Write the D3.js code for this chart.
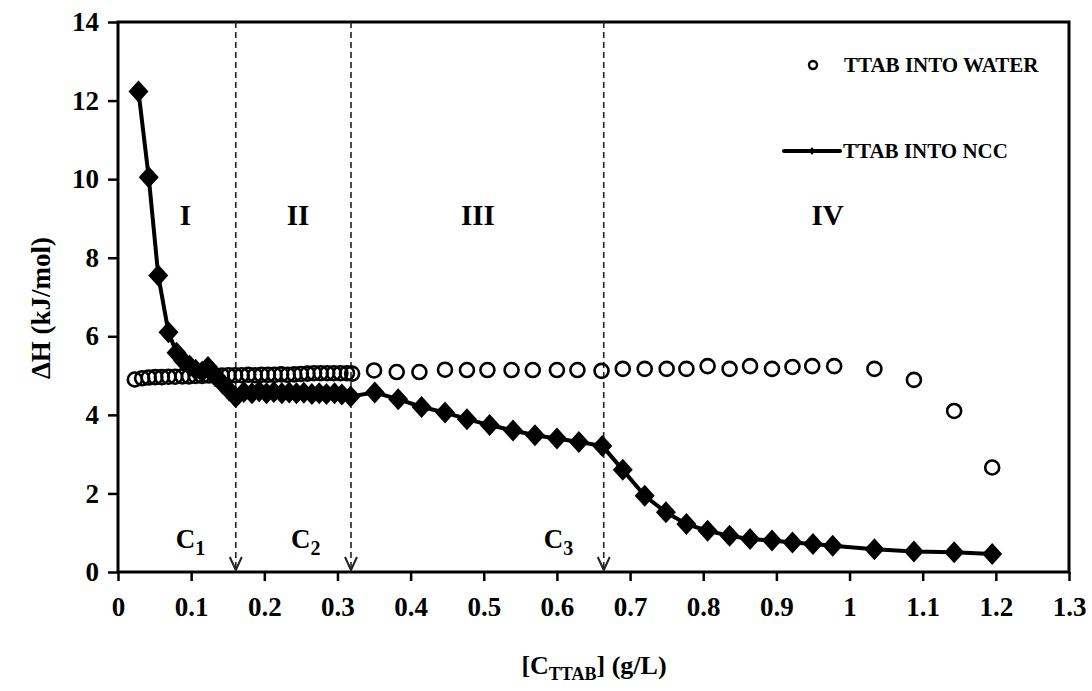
<!DOCTYPE html>
<html>
<head>
<meta charset="utf-8">
<script src="https://cdn.jsdelivr.net/npm/d3@7"></script>
<style>
  html, body { margin: 0; padding: 0; background: #fff; }
  svg { display: block; }
  text { font-family: "Liberation Serif", "Times New Roman", serif; font-weight: bold; fill: #000; }
</style>
</head>
<body>
<svg id="chart" width="1092" height="691"></svg>
<script>
// TTAB concentration (g/L) and enthalpy change (kJ/mol) for injection into water
const waterX = [0.023, 0.033, 0.042, 0.051, 0.060, 0.069, 0.078, 0.088, 0.097, 0.106,
  0.115, 0.124, 0.133, 0.142, 0.151, 0.160, 0.169, 0.178, 0.187, 0.196,
  0.205, 0.214, 0.223, 0.232, 0.241, 0.250, 0.259, 0.268, 0.277, 0.286,
  0.295, 0.304, 0.313, 0.320,
  0.350, 0.381, 0.412, 0.447, 0.477, 0.505, 0.538, 0.567, 0.600, 0.628,
  0.661, 0.690, 0.720, 0.750, 0.777, 0.806, 0.836, 0.864, 0.894, 0.922,
  0.949, 0.979, 1.034, 1.088, 1.143, 1.195];
const waterH = [4.90, 4.93, 4.95, 4.96, 4.96, 4.97, 4.97, 4.98, 4.98, 4.99,
  4.99, 5.00, 5.00, 5.00, 5.01, 5.01, 5.01, 5.02, 5.01, 5.02,
  5.02, 5.02, 5.03, 5.02, 5.03, 5.04, 5.05, 5.06, 5.06, 5.06,
  5.06, 5.06, 5.06, 5.05,
  5.13, 5.09, 5.09, 5.15, 5.14, 5.14, 5.14, 5.14, 5.14, 5.14,
  5.12, 5.17, 5.17, 5.17, 5.17, 5.24, 5.17, 5.24, 5.17, 5.22,
  5.24, 5.24, 5.17, 4.89, 4.10, 2.66];

// TTAB injected into the NCC suspension
const nccX = [0.028, 0.042, 0.055, 0.069, 0.080, 0.089, 0.098, 0.106, 0.115, 0.123,
  0.133, 0.143, 0.152, 0.161,
  0.172, 0.183, 0.193, 0.203, 0.213, 0.224, 0.234, 0.244, 0.254, 0.265,
  0.275, 0.285, 0.296, 0.306, 0.318,
  0.351, 0.383, 0.415, 0.447, 0.477, 0.508, 0.540, 0.570, 0.600, 0.630,
  0.662, 0.690, 0.720, 0.749, 0.777, 0.806, 0.836, 0.864, 0.894, 0.922,
  0.950, 0.977, 1.034, 1.088, 1.143, 1.195];
const nccH = [12.23, 10.05, 7.55, 6.10, 5.58, 5.38, 5.25, 5.15, 5.10, 5.22,
  4.98, 4.80, 4.62, 4.45,
  4.58, 4.55, 4.60, 4.55, 4.58, 4.55, 4.57, 4.55, 4.56, 4.53,
  4.55, 4.53, 4.55, 4.52, 4.47,
  4.57, 4.40, 4.20, 4.06, 3.89, 3.74, 3.60, 3.48, 3.40, 3.31,
  3.21, 2.60, 1.94, 1.52, 1.22, 1.05, 0.92, 0.84, 0.80, 0.75,
  0.71, 0.67, 0.58, 0.52, 0.50, 0.46];

// Transition concentrations and region names
const transitionX = [0.161, 0.3185, 0.664];
const transitionSub = ["1", "2", "3"];
const regionNames = ["I", "II", "III", "IV"];
const regionX = [0.092, 0.246, 0.492, 0.970];

const xTicks = [0, 0.1, 0.2, 0.3, 0.4, 0.5, 0.6, 0.7, 0.8, 0.9, 1, 1.1, 1.2, 1.3];
const yTicks = [0, 2, 4, 6, 8, 10, 12, 14];

const legendLabels = ["TTAB INTO WATER", "TTAB INTO NCC"];

const svg = d3.select("#chart");
const plotL = 118, plotR = 1069, plotT = 22, plotB = 572;

const x = d3.scaleLinear().domain([0, 1.3]).range([plotL, plotR]);
const y = d3.scaleLinear().domain([0, 14]).range([plotB, plotT]);

// Plot frame
svg.append("rect")
  .attr("x", plotL).attr("y", plotT)
  .attr("width", plotR - plotL).attr("height", plotB - plotT)
  .attr("fill", "none").attr("stroke", "#000").attr("stroke-width", 3);

// Axes
const xAxis = svg.append("g")
  .attr("transform", `translate(0,${plotB})`)
  .call(d3.axisBottom(x).tickValues(xTicks).tickSize(9).tickPadding(16)
    .tickFormat(d => d3.format("~g")(d)));
const yAxis = svg.append("g")
  .attr("transform", `translate(${plotL},0)`)
  .call(d3.axisLeft(y).tickValues(yTicks).tickSize(10).tickPadding(9));
[xAxis, yAxis].forEach(g => {
  g.select(".domain").remove();
  g.selectAll(".tick line").attr("stroke", "#000").attr("stroke-width", 2.5);
  g.selectAll(".tick text").style("font-size", "27px")
    .style("font-family", "'Liberation Serif', serif").style("font-weight", "bold");
});

// Axis titles
svg.append("text")
  .attr("transform", `translate(50,${(plotT + plotB) / 2 + 11}) rotate(-90)`)
  .attr("text-anchor", "middle").style("font-size", "27px")
  .text("ΔH (kJ/mol)");

const xTitle = svg.append("text")
  .attr("x", 594).attr("y", 674).attr("text-anchor", "middle").style("font-size", "26px");
xTitle.append("tspan").text("[C");
xTitle.append("tspan").attr("dy", 6).style("font-size", "18px").text("TTAB");
xTitle.append("tspan").attr("dy", -6).text("] (g/L)");

// Transition markers: dashed drop lines ending in arrowheads
const trans = svg.append("g");
transitionX.forEach((c, i) => {
  const cx = x(c);
  trans.append("line")
    .attr("x1", cx).attr("x2", cx).attr("y1", plotT).attr("y2", plotB - 2)
    .attr("stroke", "#222").attr("stroke-width", 1.6).attr("stroke-dasharray", "6,4");
  trans.append("path")
    .attr("d", `M${cx - 6},${plotB - 15}L${cx},${plotB - 2}L${cx + 6},${plotB - 15}`)
    .attr("fill", "none").attr("stroke", "#222").attr("stroke-width", 2);
  const lbl = trans.append("text")
    .attr("x", cx - 60).attr("y", plotB - 24).style("font-size", "27px");
  lbl.append("tspan").text("C");
  lbl.append("tspan").attr("dy", 7).style("font-size", "20px").text(transitionSub[i]);
});

// Region labels
svg.append("g").selectAll("text").data(regionNames).join("text")
  .attr("x", (d, i) => x(regionX[i])).attr("y", 225)
  .attr("text-anchor", "middle").style("font-size", "29px")
  .text(d => d);

// Water series: open circles
const waterData = waterX.map((v, i) => [v, waterH[i]]);
svg.append("g").selectAll("circle").data(waterData).join("circle")
  .attr("cx", d => x(d[0])).attr("cy", d => y(d[1])).attr("r", 7)
  .attr("fill", "none").attr("stroke", "#000").attr("stroke-width", 2.6);

// NCC series: thick line with filled diamonds, drawn over the water points
const line = d3.line().x(d => x(d[0])).y(d => y(d[1]));
const nccData = nccX.map((v, i) => [v, nccH[i]]);
svg.append("path").datum(nccData)
  .attr("d", line).attr("fill", "none").attr("stroke", "#000").attr("stroke-width", 4)
  .attr("stroke-linejoin", "round");

const diamond = "M0,-11L10,0L0,11L-10,0Z";
svg.append("g").selectAll("path").data(nccData).join("path")
  .attr("transform", d => `translate(${x(d[0])},${y(d[1])})`)
  .attr("d", diamond).attr("fill", "#000");

// Legend
const legend = svg.append("g");
legend.append("circle").attr("cx", 813).attr("cy", 65).attr("r", 4)
  .attr("fill", "none").attr("stroke", "#000").attr("stroke-width", 2.4);
legend.append("text").attr("x", 844).attr("y", 72).style("font-size", "21px")
  .text(legendLabels[0]);
legend.append("line").attr("x1", 784).attr("x2", 840).attr("y1", 151).attr("y2", 151)
  .attr("stroke", "#000").attr("stroke-width", 4).attr("stroke-linecap", "round");
legend.append("path").attr("transform", "translate(812,151)")
  .attr("d", "M0,-4L3,0L0,4L-3,0Z").attr("fill", "#000");
legend.append("text").attr("x", 843).attr("y", 158).style("font-size", "21px")
  .text(legendLabels[1]);
</script>
</body>
</html>
